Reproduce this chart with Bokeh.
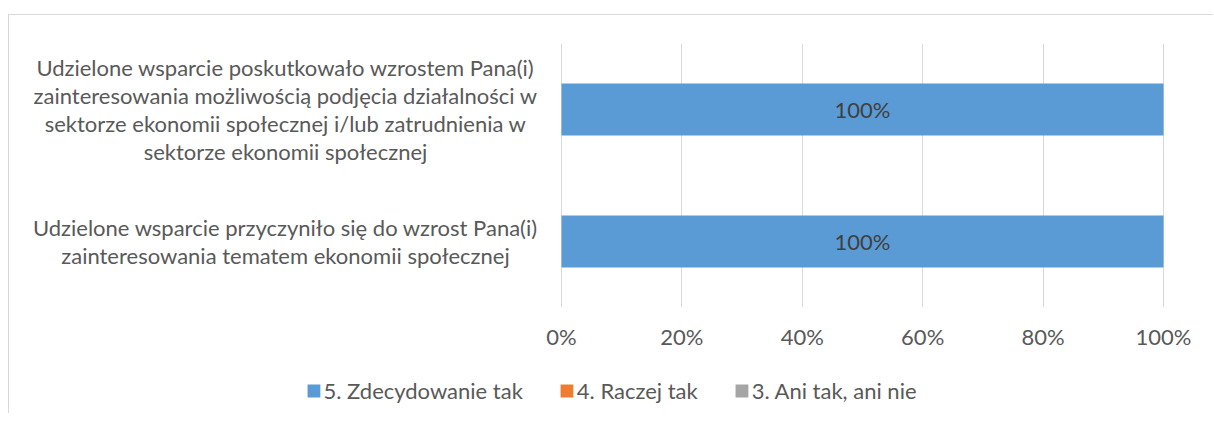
from bokeh.plotting import figure
from bokeh.layouts import column
from bokeh.models import (ColumnDataSource, FixedTicker, Legend, LegendItem,
                          PrintfTickFormatter, Range1d, FactorRange)
from bokeh.core.properties import value
from bokeh.embed import file_html
from bokeh.resources import INLINE

# ---- data ----
categories = [
    "Udzielone wsparcie przyczyniło się do wzrost Pana(i)\nzainteresowania tematem ekonomii społecznej",
    "Udzielone wsparcie poskutkowało wzrostem Pana(i)\nzainteresowania możliwością podjęcia działalności w\nsektorze ekonomii społecznej i/lub zatrudnienia w\nsektorze ekonomii społecznej",
]
series_names = ["5. Zdecydowanie tak", "4. Raczej tak", "3. Ani tak, ani nie"]
s5 = [100, 100]
s4 = [0, 0]
s3 = [0, 0]
tick_values = [0, 20, 40, 60, 80, 100]
colors = ["#5B9BD5", "#ED7D31", "#A5A5A5"]

# ---- layout constants (pixels) ----
W, H_MAIN, H_LEG = 1204, 352, 46
ZERO_PX, FULL_PX = 552, 1154
px_per = (FULL_PX - ZERO_PX) / 100.0
x_start = -ZERO_PX / px_per
x_end = (W - ZERO_PX) / px_per
LABEL_X = (276 - ZERO_PX) / px_per
FONT = "Lato"
FS = "22px"
TXT = "#595959"

keys = ["s5", "s4", "s3"]
src = ColumnDataSource(dict(cat=categories, s5=s5, s4=s4, s3=s3))

p = figure(width=W, height=H_MAIN, output_backend="svg", toolbar_location=None,
           x_range=Range1d(x_start, x_end),
           y_range=FactorRange(factors=categories, range_padding=0),
           min_border_left=0, min_border_right=0, min_border_top=28,
           min_border_bottom=H_MAIN - 292)

p.hbar_stack(keys, y="cat", height=0.394, color=colors, source=src, line_color=None)

# data labels
lx, ly, lt = [], [], []
for i, c in enumerate(categories):
    left = 0
    for k, arr in zip(keys, [s5, s4, s3]):
        v = arr[i]
        if v > 0:
            lx.append(left + v / 2)
            ly.append(c)
            lt.append(f"{v}%")
        left += v
p.text(x=lx, y=ly, text=lt, text_align="center", text_baseline="middle",
       text_font=value(FONT), text_font_size=FS, text_color="#404040")

# category labels
p.text(x=[LABEL_X] * len(categories), y=categories, text=categories,
       text_align="center", text_baseline="middle", text_font=value(FONT),
       text_font_size=FS, text_color=TXT, text_line_height=1.03)

p.yaxis.visible = False
p.ygrid.visible = False
p.outline_line_color = None

p.xaxis.ticker = FixedTicker(ticks=tick_values)
p.xaxis.formatter = PrintfTickFormatter(format="%d%%")
p.xaxis.axis_line_color = None
p.xaxis.major_tick_line_color = None
p.xaxis.minor_tick_line_color = None
p.xaxis.major_tick_out = 0
p.xaxis.major_tick_in = 0
p.xaxis.major_label_standoff = 15
p.xaxis.major_label_text_font = FONT
p.xaxis.major_label_text_font_size = FS
p.xaxis.major_label_text_color = TXT

p.xgrid.ticker = FixedTicker(ticks=tick_values)
p.xgrid.grid_line_color = "#D9D9D9"
p.xgrid.grid_line_width = 1

# legend strip (own renderers, drawn outside its visible range)
lp = figure(width=W, height=H_LEG, output_backend="svg", toolbar_location=None,
            x_range=Range1d(-2, -1), y_range=FactorRange(factors=categories),
            min_border=0)
lp.axis.visible = False
lp.grid.visible = False
lp.outline_line_color = None
leg_rs = lp.hbar_stack(keys, y="cat", height=0.394, color=colors, source=src,
                       line_color=None)
legend = Legend(items=[LegendItem(label=n, renderers=[r]) for n, r in zip(series_names, leg_rs)],
                orientation="horizontal", location="center",
                glyph_width=16, glyph_height=16, label_standoff=2, spacing=36,
                padding=0, margin=0, border_line_color=None,
                background_fill_alpha=0,
                label_text_font=FONT, label_text_font_size=FS,
                label_text_color=TXT)
lp.add_layout(legend, "center")

layout = column(p, lp, spacing=0)
layout.styles = {"border-top": "1px solid #d9d9d9", "border-left": "1px solid #d9d9d9",
                 "margin-top": "14px", "margin-left": "8px"}

open("out.html", "w").write(file_html(layout, INLINE))
